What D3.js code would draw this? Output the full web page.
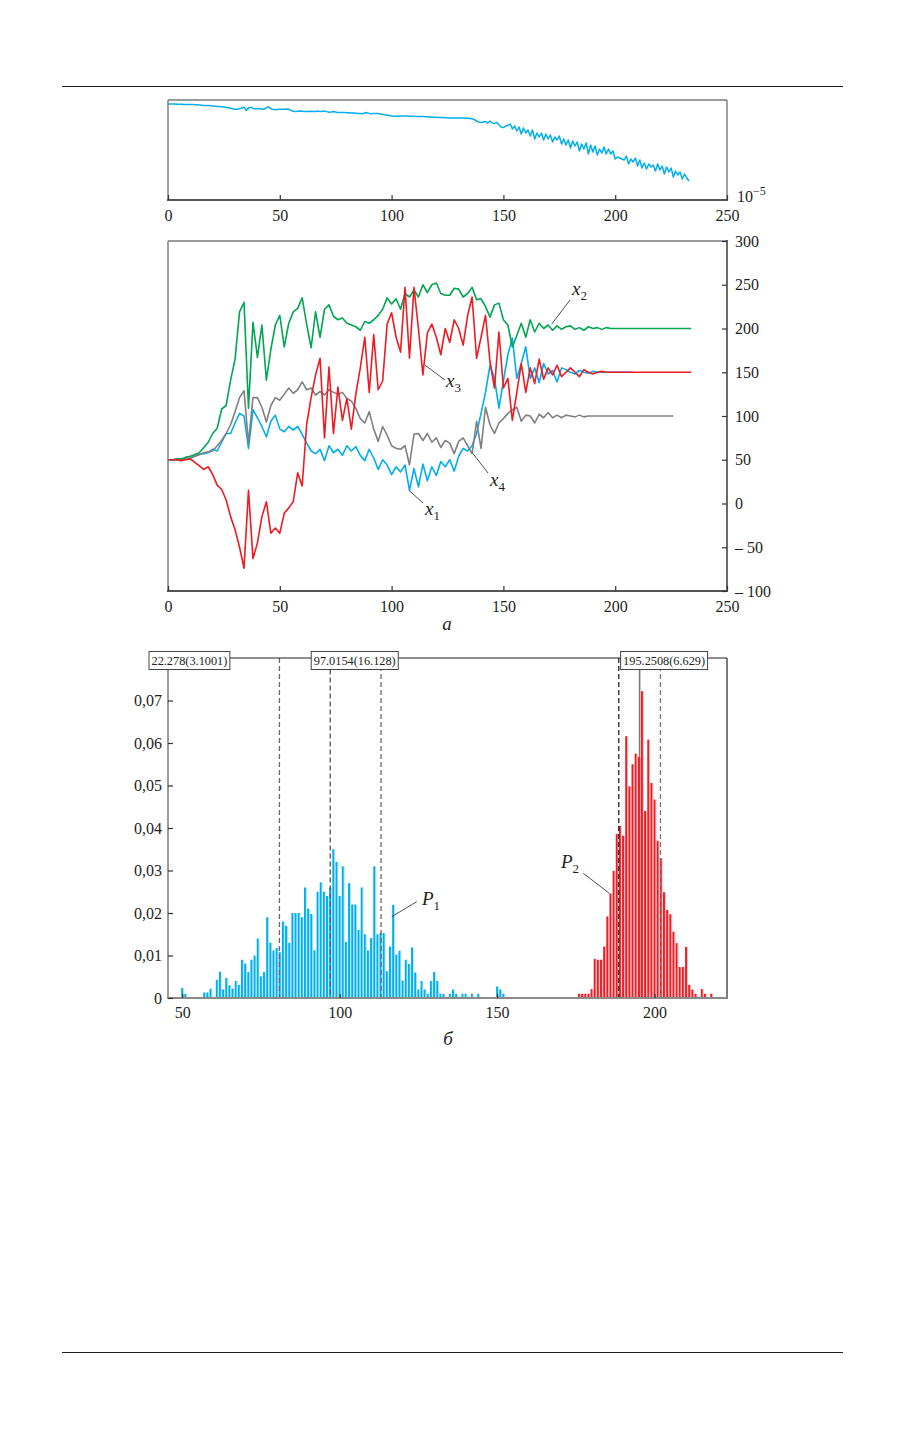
<!DOCTYPE html>
<html><head><meta charset="utf-8">
<script src="https://cdn.jsdelivr.net/npm/d3@7"></script>
<style>
body{margin:0;background:#fff}
svg{display:block}
text{font-family:"Liberation Serif","Times New Roman",serif;fill:#231f20}
</style>
</head><body>
<svg id="c" width="904" height="1431"></svg>
<script>
// ---------------- DATA ----------------
// Top panel: log10 of error per iteration (iteration = index)
const errLog10 = [
-0.20,-0.20,-0.20,-0.20,-0.21,-0.21,-0.21,-0.22,-0.22,-0.22,
-0.23,-0.23,-0.24,-0.24,-0.25,-0.26,-0.27,-0.27,-0.28,-0.29,
-0.30,-0.31,-0.32,-0.33,-0.34,-0.35,-0.37,-0.39,-0.41,-0.44,
-0.46,-0.46,-0.44,-0.40,-0.36,-0.52,-0.40,-0.36,-0.42,-0.44,
-0.43,-0.44,-0.45,-0.46,-0.38,-0.34,-0.44,-0.48,-0.47,-0.47,
-0.46,-0.46,-0.46,-0.45,-0.46,-0.52,-0.56,-0.57,-0.56,-0.55,
-0.56,-0.57,-0.58,-0.57,-0.56,-0.57,-0.57,-0.55,-0.58,-0.56,
-0.55,-0.58,-0.61,-0.60,-0.58,-0.60,-0.63,-0.63,-0.63,-0.63,
-0.64,-0.64,-0.65,-0.65,-0.66,-0.67,-0.68,-0.69,-0.65,-0.63,
-0.67,-0.69,-0.68,-0.67,-0.68,-0.70,-0.72,-0.74,-0.76,-0.78,
-0.80,-0.81,-0.81,-0.81,-0.80,-0.80,-0.80,-0.80,-0.81,-0.81,
-0.81,-0.82,-0.82,-0.83,-0.83,-0.84,-0.84,-0.85,-0.85,-0.86,
-0.86,-0.87,-0.88,-0.88,-0.89,-0.89,-0.90,-0.90,-0.90,-0.90,
-0.90,-0.90,-0.90,-0.90,-0.91,-0.92,-0.94,-0.98,-1.05,-1.10,
-1.12,-1.10,-1.08,-1.15,-1.05,-1.15,-1.18,-1.12,-1.25,-1.35,
-1.38,-1.30,-1.28,-1.20,-1.45,-1.30,-1.55,-1.35,-1.70,-1.40,
-1.65,-1.50,-1.80,-1.50,-1.95,-1.65,-1.85,-1.65,-2.00,-1.70,
-1.95,-1.75,-2.10,-1.85,-2.00,-1.80,-2.20,-1.95,-2.25,-2.00,
-2.40,-2.05,-2.30,-2.10,-2.55,-2.20,-2.45,-2.15,-2.70,-2.25,
-2.60,-2.30,-2.75,-2.45,-2.65,-2.35,-2.70,-2.45,-2.70,-2.55,
-2.95,-2.85,-2.90,-2.95,-3.00,-2.80,-3.20,-2.95,-3.10,-2.90,
-3.30,-3.00,-3.40,-3.15,-3.45,-3.20,-3.35,-3.25,-3.55,-3.20,
-3.50,-3.30,-3.70,-3.35,-3.60,-3.40,-3.85,-3.55,-3.75,-3.60,
-3.95,-3.70,-3.90,-4.05
];

// Middle panel: parameter trajectories, sampled every 2 iterations (0..234)
const iterStep = 2;
const x1 = [
50,50,50,51,51,52,54,56,57,58,
62,60,70,80,80,92,103,100,63,107,
98,88,76,94,101,85,82,88,84,88,
79,69,60,57,62,49,66,58,62,55,
66,60,65,55,49,62,52,39,50,44,
33,42,36,44,15,40,19,45,26,42,
32,48,42,50,37,54,63,60,66,80,
103,127,158,143,109,140,170,189,143,160,
179,143,155,138,160,148,152,139,155,153,
150,148,152,150,149,151,150,150,150,150,
150,150,150,150,150,null,null,null,null,null,
null,null,null,null,null,null,null,null
];
const x2 = [
50,50,51,51,53,54,56,58,64,70,
80,86,108,112,141,165,219,230,109,207,
167,204,141,176,204,215,179,206,219,223,
235,205,178,219,190,222,227,214,210,212,
206,204,202,198,208,206,210,215,222,235,
228,234,222,240,236,244,236,250,241,250,
252,240,238,238,246,245,236,240,247,233,
234,225,213,227,229,210,204,179,192,206,
190,210,196,206,200,204,198,203,199,202,
203,199,201,198,202,200,201,199,201,200,
200,200,200,200,200,200,200,200,200,200,
200,200,200,200,200,200,200,200
];
const x3 = [
50,50,50,49,50,51,47,43,39,42,
33,21,16,4,-15,-30,-50,-74,15,-63,
-45,-15,2,-34,-28,-34,-11,-5,2,35,
20,90,121,147,166,75,156,80,133,95,
120,85,125,155,190,127,193,130,140,205,
218,190,173,247,166,247,200,147,195,205,
190,170,200,184,210,200,181,215,236,166,
190,215,162,132,196,132,143,95,127,160,
127,155,137,165,142,155,147,158,145,150,
155,150,145,153,150,148,150,151,150,150,
150,150,150,150,150,150,150,150,150,150,
150,150,150,150,150,150,150,150
];
const x4 = [
50,50,50,50,51,52,54,56,58,59,
60,66,72,80,90,105,121,129,69,121,
121,110,93,112,121,118,125,132,126,130,
139,130,132,124,128,124,130,127,125,127,
120,117,109,97,92,105,85,71,88,78,
66,63,62,66,44,79,80,72,80,70,
75,64,72,69,57,71,75,66,57,94,
63,110,90,80,92,97,103,107,110,94,
101,100,92,102,98,104,98,101,98,101,
100,99,101,99,100,100,100,100,100,100,
100,100,100,100,100,100,100,100,100,100,
100,100,100,100,null,null,null,null
];
const iterTicks = [0,50,100,150,200,250];
const midTickValues = [-100,-50,0,50,100,150,200,250,300];
const midTickLabels = ["\u2013 100","\u2013 50","0","50","100","150","200","250","300"];

// Bottom panel: histograms
const p1Start = 50;
const p1Prob = [
.0024,.001,0,0,0,0,0,.0013,.0013,.0022,
0,.0043,.0062,.002,.0047,.003,.0022,.004,.0031,.009,
.0081,.0061,.009,.010,.014,.0051,.0061,.019,.013,.0112,
.0118,.0108,.018,.017,.013,.020,.020,.020,.019,.026,
.021,.0198,.0112,.025,.0272,.025,.024,.026,.035,.032,
.024,.031,.0132,.027,.022,.022,.016,.026,.015,.0112,
.0141,.031,.015,.0153,.0153,.0063,.0121,.0219,.0102,.0111,
.0041,.009,.008,.0119,.006,.002,.004,.002,.001,.004,
.0061,.004,.001,.001,0,.001,.002,.001,0,.001,
.001,0,.001,0,.001,0,0,0,0,0,
.0027,.002,.001
];
const p2Start = 176;
const p2Prob = [
.001,.001,.001,.001,.0021,.0092,.009,.009,.0121,.0192,
.0246,.0299,.0386,.0405,.0382,.0616,.0498,.055,.0575,.0567,
.0722,.044,.0608,.0506,.0467,.037,.0329,.0249,.0207,.0197,
.0156,.0129,.0073,.0073,.012,.0031,.002,.001,0,.0021,
.001,0,.001
];
const histXTicks = [50,100,150,200];
const histYTicks = [0,.01,.02,.03,.04,.05,.06,.07];
const histYLabels = ["0","0,01","0,02","0,03","0,04","0,05","0,06","0,07"];
const p1Mean = 97.0154, p1Std = 16.128;
const p2Mean = 195.2508, p2Std = 6.629;
const boxLabels = ["22.278(3.1001)","97.0154(16.128)","195.2508(6.629)"];

// ---------------- DRAW ----------------
const svg = d3.select("#c");
svg.append("rect").attr("width",904).attr("height",1431).attr("fill","#fff");
const INK = "#231f20";
const C_BLUE = "#00aeef", C_GREEN = "#00a651", C_RED = "#ed1c24", C_GRAY = "#808080";

[86.5,1352.5].forEach(y => svg.append("line")
  .attr("x1",62).attr("x2",843).attr("y1",y).attr("y2",y)
  .attr("stroke",INK).attr("stroke-width",1));

function styleAxis(g){
  g.attr("font-size",16).attr("font-family","'Liberation Serif','Times New Roman',serif").attr("color",INK);
  g.select(".domain").remove();
  g.selectAll(".tick line").attr("stroke","#333").attr("stroke-width",1.2);
  g.selectAll(".tick text").attr("fill",INK);
}
function hline(g,x1,x2,y,col,w){g.append("line").attr("x1",x1).attr("x2",x2).attr("y1",y).attr("y2",y).attr("stroke",col).attr("stroke-width",w);}
function vline(g,x,y1,y2,col,w){g.append("line").attr("x1",x).attr("x2",x).attr("y1",y1).attr("y2",y2).attr("stroke",col).attr("stroke-width",w);}
function subLabel(g,x,y,main,sub){
  const t = g.append("text").attr("x",x).attr("y",y).attr("font-size",19);
  t.append("tspan").attr("font-style","italic").text(main);
  t.append("tspan").attr("font-size",13).attr("dy",5).text(sub);
}
function leader(g,x1,y1,x2,y2){
  g.append("line").attr("x1",x1).attr("y1",y1).attr("x2",x2).attr("y2",y2).attr("stroke",INK).attr("stroke-width",0.8);
}

// ---- Top panel ----
const xTop = d3.scaleLinear().domain([0,250]).range([168,727]);
const yTop = d3.scaleLog().domain([1e-5,1]).range([200,100]);
const errVals = errLog10.map(e => Math.pow(10,e));
const gT = svg.append("g");
gT.append("path").datum(errVals)
  .attr("d", d3.line().x((d,i)=>xTop(i)).y(d=>yTop(d)))
  .attr("fill","none").attr("stroke",C_BLUE).attr("stroke-width",1.5).attr("stroke-linejoin","round");
hline(gT,168,727,100,"#7a7a7a",1.4);
vline(gT,168,100,200,"#7a7a7a",1.4);
vline(gT,727,100,200,"#7a7a7a",1.4);
hline(gT,167,728,200,"#555",2);
gT.append("g").attr("transform","translate(0,200)")
  .call(d3.axisBottom(xTop).tickValues(iterTicks).tickSize(-5).tickSizeOuter(0).tickPadding(10))
  .call(styleAxis);
const tl = gT.append("text").attr("x",737).attr("y",202).attr("font-size",16);
tl.append("tspan").text("10");
tl.append("tspan").attr("font-size",12).attr("dy",-7).text("\u22125");

// ---- Middle panel ----
const xMid = d3.scaleLinear().domain([0,250]).range([168,727]);
const yMid = d3.scaleLinear().domain([-100,300]).range([591,241]);
const gM = svg.append("g");
const lineMid = d3.line().defined(d=>d!=null).x((d,i)=>xMid(i*iterStep)).y(d=>yMid(d));
[[x1,C_BLUE],[x4,C_GRAY],[x2,C_GREEN],[x3,C_RED]].forEach(([s,c])=>{
  gM.append("path").datum(s).attr("d",lineMid)
    .attr("fill","none").attr("stroke",c).attr("stroke-width",1.6).attr("stroke-linejoin","round");
});
hline(gM,168,727,241,"#7a7a7a",1.4);
vline(gM,168,241,591,"#7a7a7a",1.4);
vline(gM,727,240,592,"#444",1.6);
hline(gM,167,728,591,"#555",2);
gM.append("g").attr("transform","translate(0,591)")
  .call(d3.axisBottom(xMid).tickValues(iterTicks).tickSize(-5).tickSizeOuter(0).tickPadding(10))
  .call(styleAxis);
gM.append("g").attr("transform","translate(727,0)")
  .call(d3.axisRight(yMid).tickValues(midTickValues).tickSize(-5).tickSizeOuter(0).tickPadding(8)
        .tickFormat((d,i)=>midTickLabels[i]))
  .call(styleAxis);
// series labels
leader(gM, xMid(171.6), yMid(205), 570, 300); subLabel(gM,572,295,"x","2");
leader(gM, xMid(115), yMid(158), 445, 380);   subLabel(gM,446,387,"x","3");
leader(gM, xMid(107.8), yMid(15), 423, 503);  subLabel(gM,425,515,"x","1");
leader(gM, xMid(136.4), yMid(57), 488, 473);  subLabel(gM,490,486,"x","4");
gM.append("text").attr("x",447).attr("y",630).attr("font-size",19).attr("font-style","italic").attr("text-anchor","middle").text("a");

// ---- Histogram panel ----
const xH = d3.scaleLinear().domain([45.5,223]).range([168,727]);
const yH = d3.scaleLinear().domain([0,0.08]).range([998,658]);
const gH = svg.append("g");
const bottomY = yH(0), topY = yH(0.08);
const boxTop = 651.5, boxBot = 669.5;

// mean line of P2 (behind bars)
vline(gH, xH(p2Mean), boxBot, bottomY, "#7a7a7a", 1.6);

function bars(start, probs, color){
  probs.forEach((p,i)=>{
    if(!p) return;
    const cx = xH(start+i);
    gH.append("rect").attr("x",cx-1).attr("y",yH(p)).attr("width",1.9).attr("height",bottomY-yH(p)).attr("fill",color);
    gH.append("rect").attr("x",cx+0.9).attr("y",yH(p)).attr("width",1).attr("height",bottomY-yH(p)).attr("fill",color).attr("opacity",0.3);
  });
}
bars(p1Start,p1Prob,C_BLUE);
bars(p2Start,p2Prob,C_RED);

function dashed(x,y1,col){
  gH.append("line").attr("x1",x).attr("x2",x).attr("y1",y1).attr("y2",bottomY)
    .attr("stroke",col).attr("stroke-width",1.3).attr("stroke-dasharray","5,3");
}
dashed(xH(p1Mean-p1Std), topY, "#666");
dashed(xH(p1Mean), boxBot, "#555");
dashed(xH(p1Mean+p1Std), topY, "#666");
dashed(xH(p2Mean-p2Std), topY, "#222");
dashed(xH(p2Mean+p2Std), topY, "#777");

// frame
hline(gH,168,727,topY,INK,1.2);
vline(gH,727,topY,bottomY,"#333",1.3);
vline(gH,168,boxBot,bottomY,"#7a7a7a",1.5);
hline(gH,167,728,bottomY,"#8a8a8a",2.2);

gH.append("g").attr("transform",`translate(0,${bottomY})`)
  .call(d3.axisBottom(xH).tickValues(histXTicks).tickSize(-4).tickSizeOuter(0).tickPadding(9))
  .call(styleAxis);
gH.append("g").attr("transform","translate(168,0)")
  .call(d3.axisLeft(yH).tickValues(histYTicks).tickSize(-5).tickSizeOuter(0).tickPadding(6)
        .tickFormat((d,i)=>histYLabels[i]))
  .call(styleAxis);

// annotation boxes
const anchors = [xH.domain()[0], p1Mean, p2Mean];
anchors.forEach((a,i)=>{
  const left = xH(a) - 19;
  const g = gH.append("g");
  const r = g.append("rect").attr("y",boxTop).attr("height",boxBot-boxTop).attr("fill","#fff").attr("stroke","#444").attr("stroke-width",1);
  const t = g.append("text").attr("y",boxBot-4.5).attr("font-size",12.3).text(boxLabels[i]);
  const w = t.node().getComputedTextLength() + 5;
  r.attr("x",left).attr("width",w);
  t.attr("x",left+2.5);
});

leader(gH, 391.7, 916.7, 416.7, 901.7); subLabel(gH,422,905,"P","1");
leader(gH, 583.3, 873.3, 609.3, 893.3); subLabel(gH,561,868,"P","2");
gH.append("text").attr("x",448).attr("y",1045).attr("font-size",19).attr("font-style","italic").attr("text-anchor","middle").text("\u0431");
</script>
</body></html>
